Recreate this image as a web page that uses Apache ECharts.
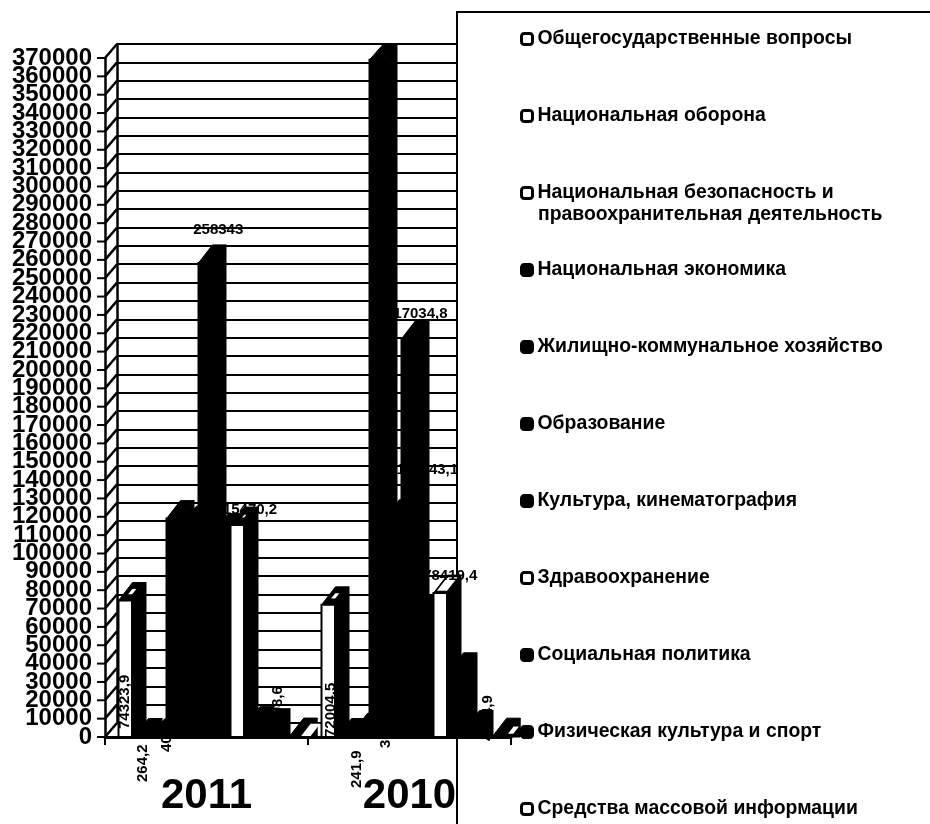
<!DOCTYPE html>
<html><head><meta charset="utf-8">
<style>html,body{margin:0;padding:0;background:#fff}#c{width:930px;height:824px}</style>
<script src="https://cdn.jsdelivr.net/npm/echarts@6/dist/echarts.min.js"></script>
</head><body><div id="c"></div>
<script>
const categories = ['2011', '2010'];
const general   = [74323.9, 72004.5];
const defense   = [264.2, 241.9];
const security  = [40.5, 3100];
const economy   = [119000, 369000];
const housing   = [116000, 119543.1];
const education = [258343, 217034.8];
const culture   = [112000, 68000];
const health    = [115470.2, 78419.4];
const social    = [7000, 36063.8];
const sport     = [5598.6, 4684.9];
const media     = [500, 450];

const seriesDefs = [
  ['Общегосударственные вопросы', general, '#fff'],
  ['Национальная оборона', defense, '#fff'],
  ['Национальная безопасность и правоохранительная деятельность', security, '#fff'],
  ['Национальная экономика', economy, '#000'],
  ['Жилищно-коммунальное хозяйство', housing, '#000'],
  ['Образование', education, '#000'],
  ['Культура, кинематография', culture, '#000'],
  ['Здравоохранение', health, '#fff'],
  ['Социальная политика', social, '#000'],
  ['Физическая культура и спорт', sport, '#000'],
  ['Средства массовой информации', media, '#fff']
];

// geometry of the pseudo-3D look (separate from the data)
const SLOT = [0, 1, 2, 3, 4, 5, 6, 7, 8, 9, 10.7];
const LEAD = 13.5 / 203, STEP = 16 / 203, FRONT = 13.5 / 203;
const DX = 14, DY = 18, WALL_DX = 12, WALL_DY = 14;
const TINY = 10000;
const FONT = 'bold 15px "Liberation Sans"';
const SPECK = {
  '0-0': {k: .3}, '0-1': {k: .3}, '7-0': {k: .15}, '7-1': {k: .75},
  '10-0': {k: .7, ox: 7, oy: 3}, '10-1': {k: .4, ox: 7, oy: 3}
};
// label placement: rot = rotated upward; dx from front centre; dy from axis base (rotated) or bar top (flat)
const LABEL_AT = {
  '0-0': {rot: 1, dx: 0, dy: -8}, '0-1': {rot: 1, dx: 3, dy: 0},
  '1-0': {rot: 1, dx: 2, dy: 45}, '1-1': {rot: 1, dx: 13, dy: 51},
  '2-0': {rot: 1, dx: 10, dy: 15}, '3-1': {rot: 1, dx: 10, dy: 11},
  '5-0': {dx: 13, dy: -15}, '5-1': {dx: 8, dy: -7},
  '4-1': {dx: 35, dy: -30}, '7-0': {dx: 9, dy: 3}, '7-1': {dx: 10, dy: 1},
  '8-1': {rot: 1, dx: 14, dy: -28}, '9-0': {rot: 1, dx: 9, dy: -5}, '9-1': {rot: 1, dx: 16, dy: 4}
};

function fmt(v) { return String(v).replace('.', ','); }

function barRenderer(s, fill) {
  return function (params, api) {
    const cat = api.value(0), v = api.value(1);
    const band = api.size([1, 0])[0];
    const base = api.coord([cat, 0]), top = api.coord([cat, v]);
    const x0 = base[0] - band / 2 + band * (LEAD + SLOT[s] * STEP);
    const w = band * FRONT, y0 = top[1], yb = base[1];
    const yTop = Math.max(y0 - DY, params.coordSys.y - WALL_DY);
    const black = {fill: '#000', stroke: '#000', lineWidth: 1};
    const children = [
      {type: 'polygon', shape: {points: [[x0 + w, y0], [x0 + w + DX, yTop], [x0 + w + DX, yb], [x0 + w, yb]]}, style: black},
      {type: 'polygon', shape: {points: [[x0, y0], [x0 + DX, yTop], [x0 + w + DX, yTop], [x0 + w, y0]]}, style: black},
      {type: 'rect', shape: {x: x0, y: y0, width: w, height: yb - y0},
        style: {fill: v < TINY ? '#000' : fill, stroke: '#000', lineWidth: 2}}
    ];
    const key = s + '-' + cat;
    const sp = SPECK[key];
    if (sp) {
      const cx = x0 + (w + DX) / 2, cy = (y0 + yTop) / 2;
      const pts = [[x0, y0], [x0 + DX, yTop], [x0 + w + DX, yTop], [x0 + w, y0]]
        .map(p => [cx + (p[0] - cx) * sp.k + (sp.ox || 0), cy + (p[1] - cy) * sp.k + (sp.oy || 0)]);
      children.push({type: 'polygon', shape: {points: pts}, style: {fill: '#fff'}});
    }
    const at = LABEL_AT[key];
    if (at) {
      const fc = x0 + w / 2 + at.dx;
      if (at.rot) {
        children.push({type: 'text', x: fc, y: yb + at.dy, rotation: Math.PI / 2,
          style: {text: fmt(v), font: FONT, fill: '#000', align: 'left', verticalAlign: 'middle'}});
      } else {
        children.push({type: 'text', x: fc, y: yTop + at.dy,
          style: {text: fmt(v), font: FONT, fill: '#000', align: 'center', verticalAlign: 'middle'}});
      }
    }
    return {type: 'group', children};
  };
}

const wallTicks = [];
for (let t = 0; t <= 370000; t += 10000) wallTicks.push(t);

const series = seriesDefs.map((d, s) => ({
  type: 'custom', name: d[0], xAxisIndex: 0, yAxisIndex: 0, z: 3,
  itemStyle: {color: d[2], borderColor: '#000', borderWidth: 3},
  renderItem: barRenderer(s, d[2]),
  encode: {x: 0, y: 1},
  data: d[1].map((v, i) => [i, v]),
  silent: true
}));
series.unshift({
  type: 'custom', name: 'wall', xAxisIndex: 0, yAxisIndex: 0, z: 2, silent: true,
  renderItem: function (params, api) {
    const y = api.coord([0, api.value(1)])[1], x = params.coordSys.x;
    return {type: 'group', children: [
      {type: 'line', shape: {x1: x, y1: y, x2: x + WALL_DX, y2: y - WALL_DY},
        style: {stroke: '#000', lineWidth: 2.5}},
      {type: 'line', shape: {x1: x - 8, y1: y, x2: x, y2: y},
        style: {stroke: '#000', lineWidth: 2}}
    ]};
  },
  encode: {x: 0, y: 1},
  data: wallTicks.map(t => [0, t])
});

const yLabelStyle = {color: '#000', fontFamily: 'Liberation Sans', fontWeight: 'bold', fontSize: 24, margin: 13, formatter: v => String(v)};

const chart = echarts.init(document.getElementById('c'), null, {renderer: 'canvas'});
chart.setOption({
  animation: false,
  backgroundColor: '#fff',
  grid: [
    {left: 105, top: 58, width: 406, height: 679},
    {left: 117, top: 44, width: 340, height: 679}
  ],
  xAxis: [
    {type: 'category', gridIndex: 0, data: categories, z: 4,
      axisLine: {lineStyle: {color: '#000', width: 3}},
      axisTick: {show: true, length: 8, lineStyle: {color: '#000', width: 2}},
      axisLabel: {color: '#000', fontFamily: 'Liberation Sans', fontWeight: 'bold', fontSize: 42, margin: 38}},
    {type: 'category', gridIndex: 1, data: categories, show: false}
  ],
  yAxis: [
    {type: 'value', gridIndex: 0, position: 'left', min: 0, max: 370000, interval: 10000,
      splitLine: {show: false},
      axisLine: {show: true, lineStyle: {color: '#000', width: 2.5}},
      axisTick: {show: false},
      axisLabel: Object.assign({showMinLabel: false, showMaxLabel: false}, yLabelStyle)},
    {type: 'value', gridIndex: 1, position: 'left', min: 0, max: 370000, interval: 10000,
      axisLabel: {show: false}, axisTick: {show: false},
      axisLine: {show: true, lineStyle: {color: '#000', width: 2.5}},
      splitLine: {show: true, lineStyle: {color: '#000', width: 2}}},
    {type: 'value', gridIndex: 0, position: 'left', offset: 0, min: 0, max: 370000, interval: 370000,
      splitLine: {show: false}, axisLine: {show: false}, axisTick: {show: false},
      axisLabel: yLabelStyle}
  ],
  legend: {
    orient: 'vertical', left: 520, top: 29, height: 880, padding: 0, z: 6,
    itemWidth: 11, itemHeight: 11, itemGap: 57,
    selectedMode: false,
    textStyle: {color: '#000', fontFamily: 'Liberation Sans', fontWeight: 'bold', fontSize: 19.4, lineHeight: 20, padding: 0},
    formatter: n => n.replace(' и правоохранительная деятельность', ' и'),
    data: seriesDefs.map(d => ({
      name: d[0], icon: 'roundRect',
      itemStyle: {color: d[2], borderColor: '#000', borderWidth: 3}
    }))
  },
  graphic: [
    {type: 'polyline', z: 0, silent: true, shape: {points: [[457, 824], [457, 12], [930, 12]]},
      style: {stroke: '#000', lineWidth: 2, fill: null}},
    {type: 'text', z: 7, silent: true, x: 538, y: 215,
      style: {text: 'правоохранительная деятельность', font: 'bold 19.4px "Liberation Sans"', fill: '#000', verticalAlign: 'middle'}}
  ],
  series: series
});
</script></body></html>
